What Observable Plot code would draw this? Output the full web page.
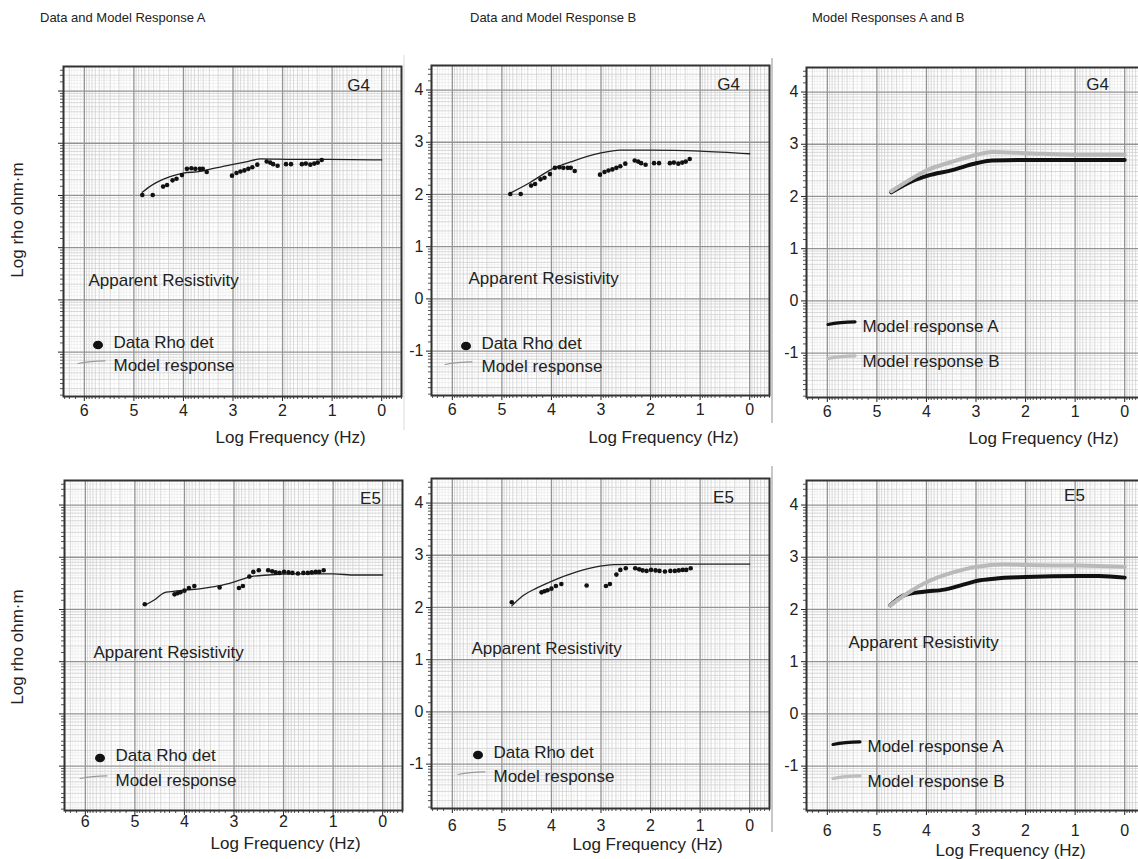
<!DOCTYPE html>
<html><head><meta charset="utf-8">
<script src="https://cdn.jsdelivr.net/npm/d3@7"></script>
<script src="https://cdn.jsdelivr.net/npm/@observablehq/plot@0.6"></script>
<style>
body{margin:0;background:#fff;}
#root{position:relative;width:1138px;height:859px;overflow:hidden;font-family:"Liberation Sans",Arial,sans-serif;color:#222;background:#fff;}
.title{position:absolute;font-size:13px;white-space:nowrap;}
.ylab{position:absolute;font-size:17px;white-space:nowrap;transform:translate(-50%,-50%) rotate(-90deg);}
.sep{position:absolute;width:2px;}
</style></head><body><div id="root"></div>
<script>
// ---------- DATA (log10 frequency [Hz], log10 apparent resistivity [ohm·m]) ----------
// Station G4 measured data (shared by panels A and B)
const g4DataLogF   = [4.83,4.62,4.41,4.33,4.22,4.14,4.03,3.93,3.84,3.76,3.67,3.61,3.53,3.02,2.93,2.85,2.77,2.69,2.61,2.51,2.32,2.25,2.19,2.10,1.93,1.83,1.61,1.53,1.44,1.36,1.29,1.21];
const g4DataLogRho = [2.01,2.01,2.17,2.20,2.29,2.32,2.39,2.51,2.52,2.51,2.51,2.51,2.45,2.38,2.43,2.46,2.48,2.51,2.54,2.59,2.65,2.63,2.60,2.57,2.60,2.60,2.60,2.61,2.59,2.61,2.63,2.68];
// G4 model response A (panel "Data and Model Response A")
const g4ModelALogF   = [4.83,4.71,4.54,4.27,4.00,3.66,3.53,3.12,2.71,2.44,1.76,1.08,0.00];
const g4ModelALogRho = [2.06,2.15,2.25,2.36,2.43,2.46,2.49,2.57,2.65,2.70,2.69,2.69,2.68];
// G4 model response B
const g4ModelBLogF   = [4.82,4.43,4.00,3.56,3.02,2.61,2.00,1.00,0.00];
const g4ModelBLogRho = [2.03,2.23,2.48,2.64,2.79,2.85,2.85,2.83,2.78];
// G4 comparison panel
const g4CompALogF   = [4.71,4.30,3.97,3.50,2.98,2.68,2.00,0.00];
const g4CompALogRho = [2.08,2.29,2.40,2.50,2.64,2.69,2.70,2.70];
const g4CompBLogF   = [4.71,4.30,3.97,3.50,2.98,2.68,2.00,0.93,0.00];
const g4CompBLogRho = [2.10,2.34,2.51,2.66,2.80,2.85,2.83,2.80,2.80];

// Station E5 measured data (shared by panels A and B)
const e5DataLogF   = [4.80,4.20,4.14,4.08,4.00,3.91,3.80,3.29,2.90,2.82,2.69,2.61,2.50,2.31,2.23,2.16,2.08,1.99,1.90,1.82,1.71,1.60,1.51,1.43,1.35,1.28,1.19];
const e5DataLogRho = [2.10,2.29,2.31,2.33,2.36,2.41,2.45,2.42,2.41,2.45,2.63,2.72,2.75,2.75,2.73,2.71,2.70,2.72,2.71,2.70,2.69,2.70,2.70,2.71,2.72,2.72,2.75];
const e5ModelALogF   = [4.80,4.61,4.41,4.27,4.00,3.66,3.32,2.99,2.65,2.31,1.77,1.00,0.55,0.00];
const e5ModelALogRho = [2.08,2.18,2.32,2.34,2.37,2.40,2.45,2.53,2.63,2.66,2.68,2.68,2.66,2.66];
const e5ModelBLogF   = [4.80,4.57,4.30,4.00,3.49,3.02,2.75,2.00,1.00,0.00];
const e5ModelBLogRho = [2.03,2.23,2.37,2.50,2.68,2.79,2.82,2.83,2.83,2.83];
const e5CompALogF   = [4.73,4.45,4.05,3.64,3.24,2.97,2.63,2.00,0.93,0.52,0.00];
const e5CompALogRho = [2.08,2.27,2.34,2.38,2.48,2.55,2.59,2.62,2.64,2.64,2.61];
const e5CompBLogF   = [4.73,4.32,3.98,3.50,2.98,2.42,2.00,0.93,0.00];
const e5CompBLogRho = [2.08,2.35,2.53,2.70,2.82,2.86,2.85,2.84,2.82];

// Tick values and texts
const xTicks = [6,5,4,3,2,1,0];
const yTicks = [4,3,2,1,0,-1];
const columnTitles = ["Data and Model Response A","Data and Model Response B","Model Responses A and B"];
const stationNames = ["G4","E5"];
const xAxisLabel = "Log Frequency (Hz)";
const yAxisLabel = "Log rho ohm·m";
const apparentLabel = "Apparent Resistivity";
const dataLegend = "Data Rho det";
const modelLegend = "Model response";
const respALegend = "Model response A";
const respBLegend = "Model response B";

// ---------- helpers ----------
const zip = (fs, rs) => fs.map((f, i) => ({f, r: rs[i]}));
const root = document.getElementById("root");
const FW = 338, FH = 330, ML = 50, MR = 14, MT = 10, MB = 62;
const xDom = [6.42, -0.4], yDom = [-1.85, 4.47];
function logGrid(lo, hi, ks) {
  const out = [];
  for (let n = Math.floor(lo) - 1; n <= Math.ceil(hi); n++)
    for (const k of ks) { const v = n + Math.log10(k); if (v > lo && v < hi) out.push(v); }
  return out;
}
const minorX = logGrid(xDom[1], xDom[0], [2,3,4,5,6,7,8,9]);
const fineX  = logGrid(xDom[1], xDom[0], [1.2,1.4,1.6,1.8,2.5,3.5,4.5]);
const minorY = logGrid(yDom[0], yDom[1], [2,3,4,5,6,7,8,9]);
const fineY  = logGrid(yDom[0], yDom[1], [1.2,1.4,1.6,1.8,2.5,3.5,4.5]);
const tickX = logGrid(xDom[1], xDom[0], [1.5,2,2.5,3,4,5,6,7,8,9]);
const tickY = logGrid(yDom[0], yDom[1], [1.5,2,2.5,3,4,5,6,7,8,9]);

function legendMark(items) {
  return (index, scales, values, dims) => {
    const g = d3.create("svg:g");
    const x0 = dims.marginLeft, y0 = dims.marginTop;
    for (const it of items) {
      const x = x0 + it.dx, y = y0 + it.dy;
      if (it.kind === "dot") {
        g.append("ellipse").attr("cx", x).attr("cy", y).attr("rx", 5).attr("ry", 4.3).attr("fill", "#111");
      } else {
        g.append("path").attr("d", `M${x},${y + 1.5}Q${x + 12},${y - 1} ${x + 27},${y - 1.2}`)
          .attr("fill", "none").attr("stroke", it.stroke).attr("stroke-width", it.width).attr("stroke-linecap", "round");
      }
    }
    return g.node();
  };
}

function txt(s, anchor, dx, dy, opts = {}) {
  return Plot.text([s], {frameAnchor: anchor, lineAnchor: "middle", dx, dy, textAnchor: "start", fontSize: 17, fill: "#222", ...opts});
}

function panel(p) {
  const marks = [
    Plot.ruleX(fineX, {stroke: "#ebebeb", strokeWidth: 0.7}),
    Plot.ruleY(fineY, {stroke: "#ebebeb", strokeWidth: 0.7}),
    Plot.ruleX(minorX, {stroke: "#cfcfcf", strokeWidth: 0.8}),
    Plot.ruleY(minorY, {stroke: "#cfcfcf", strokeWidth: 0.8}),
    Plot.ruleX(xTicks, {stroke: "#939393", strokeWidth: 1.3}),
    Plot.ruleY(yTicks, {stroke: "#939393", strokeWidth: 1.3}),
    Plot.axisX(tickX, {anchor: "bottom", tickSize: 3, tickFormat: () => "", label: null, stroke: "#555"}),
    Plot.axisY(tickY, {anchor: "left", tickSize: 3, tickFormat: () => "", label: null, stroke: "#555"}),
    Plot.axisX(xTicks, {anchor: "bottom", tickSize: 5, tickPadding: p.tp, fontSize: 16, tickFormat: d => String(d), label: null}),
    Plot.axisY(yTicks, {anchor: "left", tickSize: 5, tickPadding: 3, fontSize: 16,
      tickFormat: p.yLabels ? (d => String(d)) : (() => ""), label: null}),
    Plot.frame({stroke: "#333", strokeWidth: 2}),
    txt(p.station, "top-left", p.code[0], p.code[1], {textAnchor: "middle"}),
    txt(xAxisLabel, "bottom-left", p.xlab[0], p.xlab[1])
  ];
  if (p.app) marks.push(txt(apparentLabel, "top-left", p.app[0], p.app[1]));
  if (p.kind === "data") {
    marks.push(
      Plot.line(p.model, {x: "f", y: "r", stroke: "#222", strokeWidth: 1.3, curve: "monotone-x"}),
      Plot.dot(p.data, {x: "f", y: "r", r: 2.3, fill: "#111", stroke: "none"}),
      legendMark([{kind: "dot", dx: p.leg[0], dy: p.leg[1]},
                  {kind: "line", dx: p.leg[2], dy: p.leg[3], stroke: "#999", width: 1.2}]),
      txt(dataLegend, "top-left", p.leg[0] + 15, p.leg[1] - 3),
      txt(modelLegend, "top-left", p.leg[0] + 15, p.leg[3] + 3)
    );
  } else {
    marks.push(
      Plot.line(p.a, {x: "f", y: "r", stroke: "#111", strokeWidth: 4, curve: "monotone-x"}),
      Plot.line(p.b, {x: "f", y: "r", stroke: "#b9b9b9", strokeWidth: 4, curve: "monotone-x"}),
      legendMark([{kind: "line", dx: p.leg[0], dy: p.leg[1], stroke: "#111", width: 3.2},
                  {kind: "line", dx: p.leg[0], dy: p.leg[2], stroke: "#bdbdbd", width: 3.2}]),
      txt(respALegend, "top-left", p.leg[0] + 34, p.leg[1] + 3),
      txt(respBLegend, "top-left", p.leg[0] + 34, p.leg[2] + 4)
    );
  }
  const svg = Plot.plot({
    width: ML + FW + MR, height: MT + FH + MB,
    marginLeft: ML, marginRight: MR, marginTop: MT, marginBottom: MB,
    x: {domain: xDom}, y: {domain: yDom},
    style: {fontFamily: "'Liberation Sans', Arial, sans-serif", color: "#222", background: "transparent", overflow: "visible"},
    marks
  });
  svg.style.position = "absolute";
  svg.style.left = (p.left - ML) + "px";
  svg.style.top = (p.top - MT) + "px";
  root.appendChild(svg);
}

const panels = [
  {left: 63, top: 66, station: stationNames[0], kind: "data", yLabels: false, tp: 3,
   data: zip(g4DataLogF, g4DataLogRho), model: zip(g4ModelALogF, g4ModelALogRho),
   code: [295, 19], app: [25, 214], leg: [35, 279, 15, 296], xlab: [152, 41]},
  {left: 431, top: 65, station: stationNames[0], kind: "data", yLabels: true, tp: 3,
   data: zip(g4DataLogF, g4DataLogRho), model: zip(g4ModelBLogF, g4ModelBLogRho),
   code: [297, 19], app: [37, 213], leg: [35, 281, 14, 298], xlab: [157, 42]},
  {left: 806, top: 67, station: stationNames[0], kind: "comp", yLabels: true, tp: 3,
   a: zip(g4CompALogF, g4CompALogRho), b: zip(g4CompBLogF, g4CompBLogRho),
   code: [291, 17], leg: [22, 256, 290], xlab: [162, 41]},
  {left: 64, top: 480, station: stationNames[1], kind: "data", yLabels: false, tp: 0,
   data: zip(e5DataLogF, e5DataLogRho), model: zip(e5ModelALogF, e5ModelALogRho),
   code: [306, 18], app: [29, 172], leg: [36, 278, 16, 297], xlab: [146, 33]},
  {left: 431, top: 478, station: stationNames[1], kind: "data", yLabels: true, tp: 6,
   data: zip(e5DataLogF, e5DataLogRho), model: zip(e5ModelBLogF, e5ModelBLogRho),
   code: [292, 19], app: [40, 170], leg: [47, 277, 27, 295], xlab: [141, 36]},
  {left: 806, top: 480, station: stationNames[1], kind: "comp", yLabels: true, tp: 9,
   a: zip(e5CompALogF, e5CompALogRho), b: zip(e5CompBLogF, e5CompBLogRho),
   code: [268, 15], app: [42, 162], leg: [27, 263, 297], xlab: [129, 40]}
];

// separators
for (const s of [{x: 403, y: 55, h: 375, c: "#ececec"}, {x: 771, y: 58, h: 365, c: "#c8c8c8"}, {x: 771, y: 466, h: 366, c: "#c8c8c8"}]) {
  const d = document.createElement("div");
  d.className = "sep";
  Object.assign(d.style, {left: s.x + "px", top: s.y + "px", height: s.h + "px", background: s.c});
  root.appendChild(d);
}

panels.forEach(panel);

// column titles
[[40, 18], [470, 18], [812, 18]].forEach(([x, y], i) => {
  const d = document.createElement("div");
  d.className = "title";
  d.textContent = columnTitles[i];
  d.style.left = x + "px"; d.style.top = (y - 8) + "px";
  root.appendChild(d);
});
// y axis labels
[220, 647].forEach(cy => {
  const d = document.createElement("div");
  d.className = "ylab";
  d.textContent = yAxisLabel;
  d.style.left = "18px"; d.style.top = cy + "px";
  root.appendChild(d);
});
</script></body></html>
